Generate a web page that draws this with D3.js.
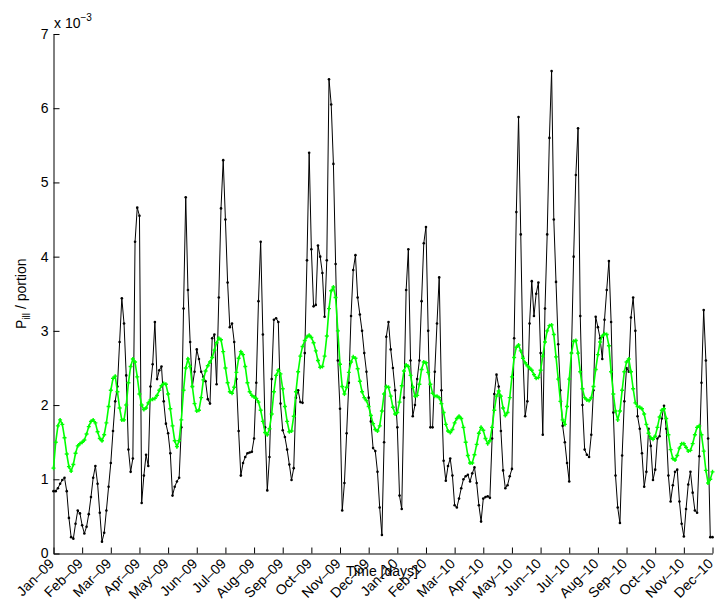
<!DOCTYPE html>
<html>
<head>
<meta charset="utf-8">
<script src="https://cdn.jsdelivr.net/npm/d3@7"></script>
<style>
  body { margin: 0; background: #fff; }
  text { font-family: "Liberation Sans", Arial, sans-serif; fill: #000; }
</style>
</head>
<body>
<div id="chart"></div>
<script>
// month tick labels, one every 13 samples
const monthLabels = ["Jan–09", "Feb–09", "Mar–09", "Apr–09", "May–09", "Jun–09",
  "Jul–09", "Aug–09", "Sep–09", "Oct–09", "Nov–09", "Dec–09",
  "Jan–10", "Feb–10", "Mar–10", "Apr–10", "May–10", "Jun–10",
  "Jul–10", "Aug–10", "Sep–10", "Oct–10", "Nov–10", "Dec–10"];
const samplesPerMonth = 13;
const yTicks = [0, 1, 2, 3, 4, 5, 6, 7];

// P_ill values (x 10^-3), black series
const observed = [
  0.84,0.84,0.88,0.94,0.99,1.02,0.84,0.48,0.22,0.20,
  0.40,0.58,0.54,0.38,0.27,0.36,0.53,0.76,1.02,1.18,
  0.94,0.55,0.16,0.28,0.58,0.90,1.22,1.65,2.05,2.25,
  2.85,3.44,3.10,2.40,1.40,1.10,1.28,4.20,4.66,4.55,
  0.68,1.05,1.33,1.18,2.25,2.55,3.12,2.35,2.47,2.52,
  2.05,1.75,1.62,1.35,0.78,0.90,0.97,1.02,1.70,3.30,
  4.80,3.55,2.85,2.25,2.45,2.75,2.62,2.45,2.38,2.32,
  2.08,2.02,2.90,2.95,2.28,3.45,4.65,5.30,4.50,3.65,
  3.05,3.10,2.85,2.35,1.65,1.05,1.22,1.30,1.35,1.36,
  1.37,1.55,2.30,3.40,4.20,2.95,1.70,0.85,1.30,2.35,
  3.15,3.17,3.12,2.02,1.66,1.57,1.40,1.20,0.99,1.15,
  2.10,2.20,2.04,2.03,2.70,3.95,5.40,4.10,3.33,3.35,
  4.15,4.00,3.78,3.19,3.95,6.39,6.05,5.25,3.90,2.60,
  1.95,0.58,0.95,1.62,2.30,3.20,3.82,4.02,3.45,3.22,
  3.00,2.70,2.45,2.10,1.78,1.42,1.38,1.10,0.62,0.25,
  1.50,2.92,3.12,2.75,2.50,2.20,1.70,0.78,0.60,2.10,
  3.55,4.10,2.60,1.85,2.00,2.35,2.60,3.40,4.18,4.40,
  3.00,1.70,1.70,2.45,3.10,3.72,2.20,1.25,0.98,1.18,
  1.28,1.05,0.65,0.62,0.74,0.88,1.00,1.04,1.06,0.97,
  1.08,1.16,0.95,0.65,0.43,0.74,0.76,0.77,0.75,1.55,
  2.15,2.41,2.25,1.65,1.12,0.88,0.92,1.04,1.14,2.90,
  4.60,5.88,4.30,2.65,1.85,2.05,3.10,3.67,3.20,3.50,
  3.65,2.70,1.60,3.30,4.30,5.60,6.50,4.50,3.66,2.82,
  2.20,1.72,1.50,1.22,0.97,2.70,4.00,5.10,5.73,3.20,
  2.00,1.40,1.33,1.30,1.60,2.20,3.19,3.05,2.90,2.62,
  3.15,3.55,3.94,3.12,1.90,1.05,0.62,0.41,1.32,2.05,
  2.50,2.45,3.18,3.45,3.00,1.85,1.68,1.35,0.90,1.10,
  1.68,1.45,0.99,1.13,1.55,1.58,1.82,1.99,1.68,1.05,
  0.70,0.92,1.10,1.13,0.70,0.40,0.23,0.60,0.93,1.10,
  0.82,0.58,0.55,1.31,2.30,3.28,2.60,1.55,0.22,0.22
];

// smoothed curve (x 10^-3), green series
const smoothed = [
  1.15,1.50,1.72,1.80,1.74,1.56,1.34,1.17,1.11,1.20,
  1.35,1.45,1.48,1.50,1.53,1.61,1.71,1.78,1.80,1.76,
  1.64,1.55,1.52,1.60,1.76,1.98,2.20,2.36,2.39,2.18,
  1.96,1.80,1.80,2.00,2.30,2.52,2.62,2.58,2.38,2.15,
  2.00,1.94,1.96,2.03,2.07,2.08,2.09,2.13,2.20,2.26,
  2.29,2.28,2.15,1.95,1.72,1.52,1.44,1.52,1.80,2.20,
  2.50,2.62,2.52,2.25,2.02,1.92,1.93,2.10,2.34,2.46,
  2.53,2.58,2.64,2.74,2.84,2.90,2.88,2.72,2.50,2.30,
  2.18,2.16,2.24,2.44,2.63,2.72,2.68,2.52,2.30,2.18,
  2.13,2.11,2.09,2.04,1.93,1.78,1.63,1.60,1.68,1.88,
  2.18,2.40,2.47,2.42,2.22,1.98,1.78,1.64,1.65,1.85,
  2.18,2.45,2.66,2.79,2.87,2.92,2.94,2.91,2.84,2.73,
  2.60,2.51,2.52,2.66,2.93,3.30,3.54,3.59,3.45,3.00,
  2.55,2.25,2.15,2.24,2.44,2.58,2.65,2.63,2.49,2.32,
  2.18,2.10,2.06,1.98,1.86,1.75,1.67,1.65,1.72,1.92,
  2.15,2.25,2.24,2.12,1.97,1.88,1.90,2.04,2.26,2.46,
  2.54,2.52,2.40,2.24,2.12,2.13,2.28,2.48,2.58,2.57,
  2.44,2.28,2.16,2.12,2.12,2.10,2.02,1.90,1.74,1.65,
  1.63,1.67,1.76,1.82,1.85,1.82,1.70,1.50,1.32,1.22,
  1.22,1.33,1.47,1.62,1.70,1.66,1.55,1.48,1.52,1.70,
  1.93,2.12,2.19,2.12,1.96,1.86,1.90,2.10,2.38,2.64,
  2.78,2.81,2.73,2.63,2.57,2.53,2.50,2.47,2.41,2.36,
  2.37,2.47,2.66,2.85,3.00,3.07,3.08,2.95,2.65,2.35,
  2.05,1.80,1.74,1.98,2.35,2.70,2.86,2.87,2.70,2.45,
  2.22,2.10,2.07,2.06,2.10,2.25,2.48,2.68,2.85,2.93,
  2.96,2.95,2.80,2.45,2.15,1.92,1.80,1.92,2.20,2.45,
  2.58,2.62,2.45,2.22,2.03,1.98,1.97,1.95,1.88,1.74,
  1.62,1.56,1.54,1.58,1.70,1.84,1.93,1.95,1.82,1.60,
  1.40,1.28,1.26,1.32,1.42,1.48,1.48,1.43,1.38,1.39,
  1.48,1.60,1.70,1.72,1.60,1.38,1.12,0.95,1.00,1.10
];

const w = 715;
const h = 604;
const plotLeft = 53.5, plotRight = 712.5, plotTop = 34, plotBottom = 553.5;

const svg = d3.select("#chart").append("svg")
  .attr("width", w)
  .attr("height", h)
  .style("background", "#fff");

const xScale = d3.scaleLinear()
  .domain([0, samplesPerMonth * (monthLabels.length - 1)])
  .range([plotLeft, plotRight]);

const yScale = d3.scaleLinear()
  .domain([0, 7])
  .range([plotBottom, plotTop]);

const xAxis = d3.axisBottom(xScale)
  .tickValues(monthLabels.map((d, i) => i * samplesPerMonth))
  .tickFormat((d) => monthLabels[Math.round(d / samplesPerMonth)])
  .tickSizeInner(-6)
  .tickSizeOuter(0);

const yAxis = d3.axisLeft(yScale)
  .tickValues(yTicks)
  .tickFormat(d3.format("d"))
  .tickSizeInner(-6)
  .tickSizeOuter(0);

const gx = svg.append("g")
  .attr("transform", "translate(0," + plotBottom + ")")
  .call(xAxis);

gx.selectAll(".tick text")
  .attr("x", 0)
  .attr("y", 0)
  .attr("dy", null)
  .attr("text-anchor", "end")
  .attr("transform", "translate(1,11) rotate(-45)")
  .style("font-size", "14px");

const gy = svg.append("g")
  .attr("transform", "translate(" + plotLeft + ",0)")
  .call(yAxis);

gy.selectAll(".tick text")
  .attr("x", -5)
  .style("font-size", "14px");

svg.selectAll(".domain, .tick line")
  .attr("stroke", "#000")
  .attr("stroke-width", 1);

// black series
const line = d3.line()
  .x((d, i) => xScale(i))
  .y((d) => yScale(d));

svg.append("path")
  .datum(observed)
  .attr("fill", "none")
  .attr("stroke", "#000")
  .attr("stroke-width", 1)
  .attr("d", line);

svg.append("g")
  .selectAll("circle")
  .data(observed)
  .enter()
  .append("circle")
  .attr("cx", (d, i) => xScale(i))
  .attr("cy", (d) => yScale(d))
  .attr("r", 1.3)
  .attr("fill", "#000");

// green series
svg.append("path")
  .datum(smoothed)
  .attr("fill", "none")
  .attr("stroke", "#00ff00")
  .attr("stroke-width", 1.6)
  .attr("d", line);

svg.append("g")
  .selectAll("path")
  .data(smoothed)
  .enter()
  .append("path")
  .attr("d", (d, i) => {
    const x = xScale(i), y = yScale(d), s = 2;
    return "M" + (x - s) + "," + y + "H" + (x + s) + "M" + x + "," + (y - s) + "V" + (y + s);
  })
  .attr("stroke", "#00ff00")
  .attr("stroke-width", 1.4);

// exponent note
const expo = svg.append("text")
  .attr("x", 54)
  .attr("y", 28)
  .style("font-size", "14px");
expo.append("tspan").text("x 10");
expo.append("tspan")
  .attr("dy", -7)
  .style("font-size", "10px")
  .text("\u22123");

// axis labels
svg.append("text")
  .attr("x", 382)
  .attr("y", 576)
  .attr("text-anchor", "middle")
  .style("font-size", "14px")
  .text("Time [days]");

const ylab = svg.append("text")
  .attr("transform", "translate(26," + ((plotTop + plotBottom) / 2) + ") rotate(-90)")
  .attr("text-anchor", "middle")
  .style("font-size", "14px");
ylab.append("tspan").text("P");
ylab.append("tspan")
  .attr("dy", 4)
  .style("font-size", "10px")
  .text("ill");
ylab.append("tspan")
  .attr("dy", -4)
  .text(" / portion");
</script>
</body>
</html>
